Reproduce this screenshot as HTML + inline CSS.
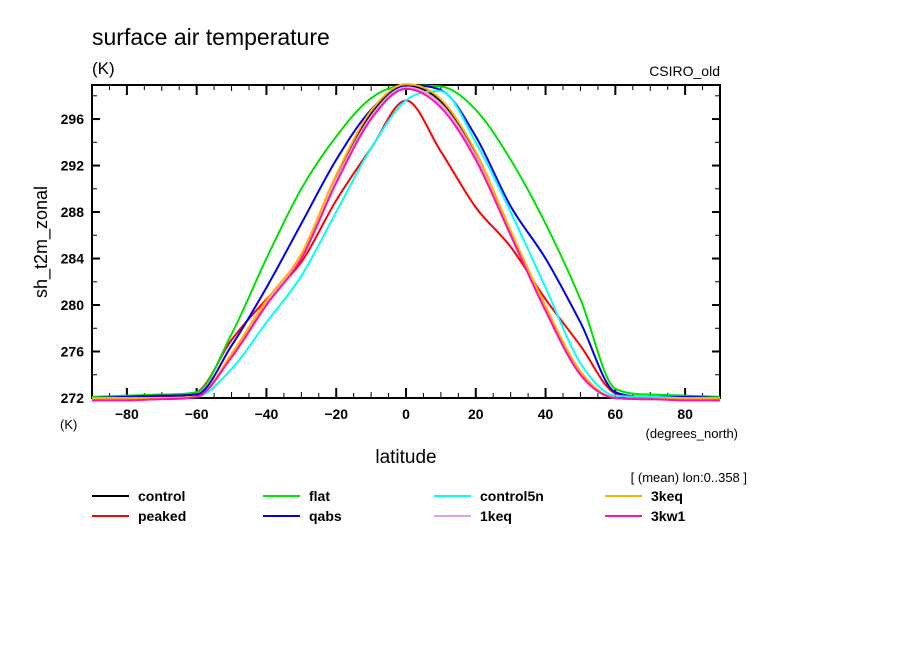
<!DOCTYPE html>
<html><head><meta charset="utf-8"><style>
body{margin:0;background:#fff;}
svg{display:block;font-family:"Liberation Sans",sans-serif;}
</style></head><body>
<svg id="chart" width="904" height="654">
<text x="92" y="45" font-size="23">surface air temperature</text>
<text x="92" y="74" font-size="17">(K)</text>
<text x="720" y="76" font-size="14" text-anchor="end">CSIRO_old</text>
<text x="47" y="242" font-size="18" text-anchor="middle" transform="rotate(-90 47 242)">sh_t2m_zonal</text>
<text x="60" y="429" font-size="13">(K)</text>
<text x="738" y="438" font-size="13" text-anchor="end">(degrees_north)</text>
<text x="406" y="463" font-size="19" text-anchor="middle">latitude</text>
<text x="747" y="482" font-size="13" text-anchor="end">[ (mean) lon:0..358 ]</text>
<g id="axes"></g>
<g id="series"></g>
<g id="legend"></g>
</svg>
<script>
const lats=[-90,-80,-70,-60,-50,-40,-30,-20,-10,0,10,20,30,40,50,60,70,80,90];
const seriesNames=["control","peaked","flat","qabs","control5n","1keq","3keq","3kw1"];
const seriesColors=["#000000","#ff0000","#00e000","#0000e0","#00ffff","#e0a0e0","#ffb000","#ff10b0"];
const control=[271.9,271.9,272.0,272.1,275.7,280.3,284.3,291.0,296.5,298.9,297.5,293.0,286.3,279.8,274.2,272.0,271.9,271.9,271.9];
const peaked=[271.8,271.9,272.1,272.5,277.0,280.5,283.7,289.0,293.5,297.6,293.2,288.4,285.0,280.5,276.5,272.4,272.0,271.9,271.8];
const flat=[272.1,272.2,272.3,272.5,277.5,284.0,290.0,294.5,297.8,298.9,298.8,296.8,292.5,287.0,280.5,272.8,272.3,272.2,272.1];
const qabs=[272.0,272.1,272.2,272.3,276.5,281.5,287.0,292.5,296.8,298.9,298.5,294.5,288.5,284.0,278.5,272.5,272.1,272.1,272.0];
const control5n=[272.0,272.0,272.0,272.1,274.5,278.5,282.5,288.0,293.5,297.6,298.4,294.0,288.0,281.5,275.0,272.2,272.1,272.0,272.0];
const keq1=[271.9,271.9,272.0,272.1,275.6,280.2,284.2,290.8,296.2,298.7,297.3,292.8,286.2,279.7,274.1,272.0,271.9,271.9,271.9];
const keq3=[271.9,271.9,272.0,272.1,275.8,280.4,284.4,291.2,296.7,299.0,297.7,293.2,286.4,279.9,274.3,272.0,271.9,271.9,271.9];
const kw1=[271.8,271.8,271.9,272.1,275.5,280.0,284.0,290.5,296.0,298.6,297.0,292.5,286.0,279.5,274.0,272.0,271.9,271.8,271.8];
const seriesData=[control,peaked,flat,qabs,control5n,keq1,keq3,kw1];
const yTicks=[272,276,280,284,288,292,296];
const xTicks=[-80,-60,-40,-20,0,20,40,60,80];

const NS="http://www.w3.org/2000/svg";
const L=92,R=720,T=85,B=398;
const xMin=-90,xMax=90,yMin=272,yMax=298.93;
function sx(v){return L+(v-xMin)/(xMax-xMin)*(R-L);}
function sy(v){return B-(v-yMin)/(yMax-yMin)*(B-T);}
function mk(tag,attrs,parent){const e=document.createElementNS(NS,tag);for(const k in attrs)e.setAttribute(k,attrs[k]);parent.appendChild(e);return e;}
const axes=document.getElementById('axes');
const frame=mk('rect',{x:L,y:T,width:R-L,height:B-T,fill:'none',stroke:'#000','stroke-width':2},axes);


for(let v=-90;v<=90;v+=5){
  const major=(v%20===0&&v!==-90&&v!==90);
  const len=v%10===0?(major?10:6):5;
  const x=sx(v);
  const t1=mk('line',{x1:x,y1:B,x2:x,y2:B-len,stroke:'#000','stroke-width':major?2:1},axes);
  
  
  const t2=mk('line',{x1:x,y1:T,x2:x,y2:T+len,stroke:'#000','stroke-width':major?2:1},axes);
  
  
}
xTicks.forEach(v=>{
  const t=mk('text',{x:sx(v),y:B+21,'font-size':14,'text-anchor':'middle','font-weight':'bold'},axes);
  t.textContent=(v<0?'\u2212':'')+Math.abs(v);
  
  
});
for(let v=272;v<=298;v+=2){
  const major=v%4===0;
  const y=sy(v);
  const a=mk('line',{x1:L,y1:y,x2:L+(major?8:5),y2:y,stroke:'#000','stroke-width':major?2:1},axes);
  
  
  const b=mk('line',{x1:R,y1:y,x2:R-(major?8:5),y2:y,stroke:'#000','stroke-width':major?2:1},axes);
  
  
}
yTicks.forEach(v=>{
  const t=mk('text',{x:L-8,y:sy(v)+5,'font-size':14,'text-anchor':'end','font-weight':'bold'},axes);
  t.textContent=v;
  
  
});
// monotone cubic (Fritsch-Carlson) to avoid overshoot
function pathFor(vals){
  const p=lats.map((la,i)=>[sx(la),sy(vals[i])]);
  const n=p.length,d=[],m=new Array(n);
  for(let i=0;i<n-1;i++)d.push((p[i+1][1]-p[i][1])/(p[i+1][0]-p[i][0]));
  m[0]=d[0];m[n-1]=d[n-2];
  for(let i=1;i<n-1;i++){m[i]=(d[i-1]*d[i]<=0)?0:(d[i-1]+d[i])/2;}
  for(let i=0;i<n-1;i++){
    if(d[i]===0){m[i]=0;m[i+1]=0;continue;}
    const a=m[i]/d[i],b=m[i+1]/d[i],s=a*a+b*b;
    if(s>9){const t=3/Math.sqrt(s);m[i]=t*a*d[i];m[i+1]=t*b*d[i];}
  }
  let s='M'+p[0][0]+','+p[0][1];
  for(let i=0;i<n-1;i++){
    const h=(p[i+1][0]-p[i][0])/3;
    s+=' C'+(p[i][0]+h)+','+(p[i][1]+m[i]*h)+' '+(p[i+1][0]-h)+','+(p[i+1][1]-m[i+1]*h)+' '+p[i+1][0]+','+p[i+1][1];
  }
  return s;
}
const sg=document.getElementById('series');
seriesData.forEach((vals,i)=>{
  const p=mk('path',{d:pathFor(vals),fill:'none',stroke:seriesColors[i],'stroke-width':2},sg);
  
  
});
const lg=document.getElementById('legend');
const order=[0,2,4,6,1,3,5,7];
order.forEach((si,k)=>{
  const col=k%4,row=Math.floor(k/4);
  const x=92+col*171,y=496+row*20;
  const ln=mk('line',{x1:x,y1:y,x2:x+37,y2:y,stroke:seriesColors[si],'stroke-width':2},lg);
  
  
  const t=mk('text',{x:x+46,y:y+5,'font-size':14,'font-weight':'bold'},lg);
  t.textContent=seriesNames[si];
  
  
});
</script>
</body></html>
